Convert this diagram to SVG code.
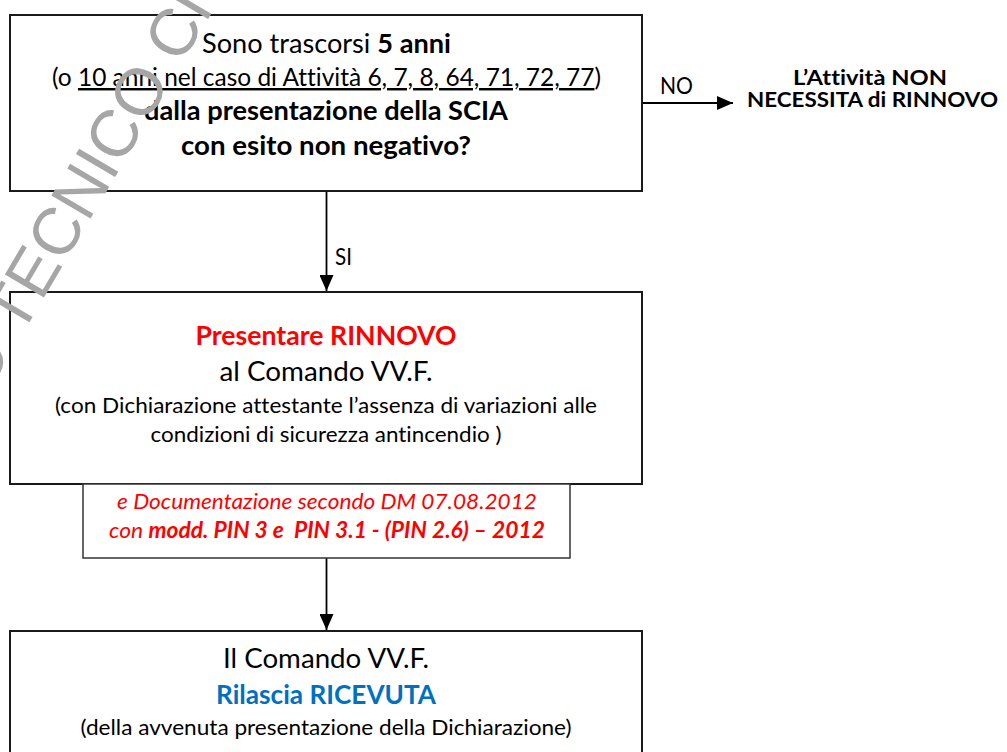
<svg xmlns="http://www.w3.org/2000/svg" width="1007" height="752" viewBox="0 0 1007 752">
<defs>
<style>
.box{fill:#ffffff;stroke:#1a1a1a;stroke-width:2}
.sbox{fill:#ffffff;stroke:#333333;stroke-width:1.5}
.t{font-family:Lato,"Liberation Sans",sans-serif;fill:#000000;font-variant-ligatures:none}
.big{font-size:27px}
.mid{font-size:24.5px}
.sm{font-size:22px}
.lbl{font-size:22.5px}
.lb2{font-size:21.5px}
.b{font-weight:bold}
.red{fill:#ff0000}
.blue{fill:#0070c0}
.it{font-style:italic}
.conn{stroke:#000000;stroke-width:1.8;fill:none}
.wm{font-family:"Liberation Sans",Arial,sans-serif;font-size:66px;fill:#a6a6a6}
</style>
<marker id="arr" viewBox="0 0 16 14" refX="16" refY="7" markerWidth="16" markerHeight="14" markerUnits="userSpaceOnUse" orient="auto">
<path d="M0,0 L16,7 L0,14 Z" fill="#000000"/>
</marker>
</defs>
<rect x="0" y="0" width="1007" height="752" fill="#ffffff"/>

<g id="connectors">
<line class="conn" x1="642" y1="103" x2="733" y2="103" marker-end="url(#arr)"/>
<line class="conn" x1="326.5" y1="191" x2="326.5" y2="291" marker-end="url(#arr)"/>
<line class="conn" x1="326.5" y1="558" x2="326.5" y2="630" marker-end="url(#arr)"/>
<text class="t lbl" x="660" y="94" textLength="33" lengthAdjust="spacingAndGlyphs">NO</text>
<text class="t lbl" x="335" y="265" textLength="17" lengthAdjust="spacingAndGlyphs">SI</text>
</g>

<g id="node-question">
<rect class="box" x="10" y="15" width="632" height="176"/>
<text class="t big" x="202" y="53" textLength="249" lengthAdjust="spacingAndGlyphs">Sono trascorsi <tspan class="b">5 anni</tspan></text>
<text class="t mid" x="52" y="86" textLength="549" lengthAdjust="spacingAndGlyphs">(o <tspan text-decoration="underline" style="text-decoration-thickness:2px">10 anni nel caso di Attività 6, 7, 8, 64, 71, 72, 77</tspan>)</text>
<text class="t big b" x="144" y="120" textLength="364" lengthAdjust="spacingAndGlyphs">dalla presentazione della SCIA</text>
<text class="t big b" x="181" y="155" textLength="290" lengthAdjust="spacingAndGlyphs">con esito non negativo?</text>
</g>

<g id="node-no">
<text class="t lb2 b" x="793" y="85" textLength="154" lengthAdjust="spacingAndGlyphs">L’Attività NON</text>
<text class="t lb2 b" x="747" y="106.5" textLength="251" lengthAdjust="spacingAndGlyphs">NECESSITA di RINNOVO</text>
</g>

<g id="node-rinnovo">
<rect class="box" x="10" y="292" width="632" height="192"/>
<text class="t big b red" x="195.5" y="345" textLength="261" lengthAdjust="spacingAndGlyphs">Presentare RINNOVO</text>
<text class="t big" x="219.5" y="381" textLength="213" lengthAdjust="spacingAndGlyphs">al Comando VV.F.</text>
<text class="t sm" x="55" y="413" textLength="542" lengthAdjust="spacingAndGlyphs">(con Dichiarazione attestante l’assenza di variazioni alle</text>
<text class="t sm" x="150.5" y="442" textLength="351" lengthAdjust="spacingAndGlyphs">condizioni di sicurezza antincendio )</text>
</g>

<g id="node-documentazione">
<rect class="sbox" x="83" y="484" width="487" height="74"/>
<text class="t sm it red" x="117" y="509" textLength="420" lengthAdjust="spacingAndGlyphs">e Documentazione secondo DM 07.08.2012</text>
<text class="t sm it red" x="109" y="538" textLength="436" lengthAdjust="spacingAndGlyphs" style="white-space:pre">con <tspan class="b">modd. PIN 3 e  PIN 3.1 - (PIN 2.6) – 2012</tspan></text>
</g>

<g id="node-ricevuta">
<rect class="box" x="10" y="631" width="632" height="140"/>
<text class="t big" x="223" y="668" textLength="206" lengthAdjust="spacingAndGlyphs">Il Comando VV.F.</text>
<text class="t big b blue" x="216" y="704" textLength="220" lengthAdjust="spacingAndGlyphs">Rilascia RICEVUTA</text>
<text class="t sm" x="80.5" y="735" textLength="491" lengthAdjust="spacingAndGlyphs">(della avvenuta presentazione della Dichiarazione)</text>
</g>

<g id="watermark">
<text class="wm" transform="translate(-14,396) rotate(-59.5)">O TECNICO CI</text>
</g>
</svg>
